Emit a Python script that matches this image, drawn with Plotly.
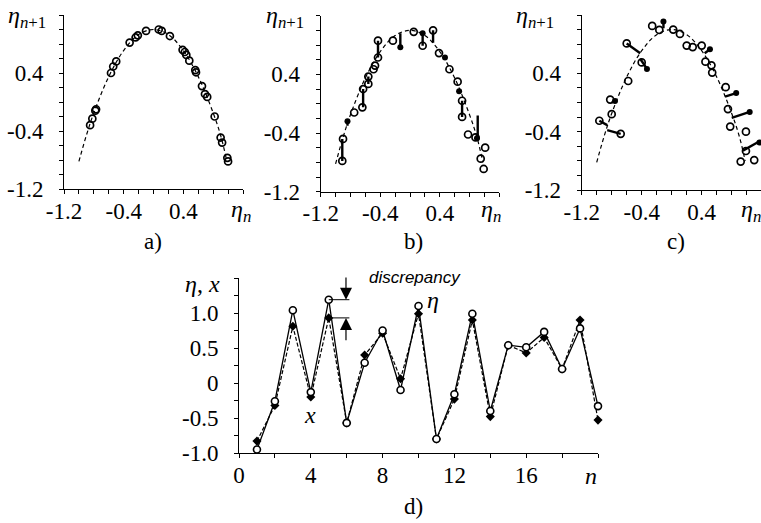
import plotly.graph_objects as go

# ---------------- data ----------------
# dashed model curve, shared by panels a-c
curve_x = [-1.0, -0.9, -0.8, -0.6, -0.4, -0.2, 0.0, 0.2, 0.4, 0.6, 0.8, 0.9, 0.98]
curve_y = [-0.82, -0.46, -0.15, 0.35, 0.71, 0.93, 1.0, 0.93, 0.71, 0.35, -0.15, -0.46, -0.80]

# panel a: return map points
a_x = [-0.85, -0.82, -0.78, -0.77, -0.57, -0.54, -0.50, -0.32, -0.24, -0.21, -0.10, 0.07, 0.11, 0.22,
       0.39, 0.42, 0.44, 0.48, 0.56, 0.57, 0.65, 0.69, 0.72, 0.82, 0.90, 0.92, 0.99, 1.00]
a_y = [-0.32, -0.23, -0.12, -0.10, 0.40, 0.49, 0.56, 0.82, 0.89, 0.92, 0.98, 1.00, 0.98, 0.91,
       0.72, 0.69, 0.65, 0.57, 0.44, 0.41, 0.22, 0.11, 0.07, -0.20, -0.49, -0.56, -0.77, -0.82]

# panel b: open points, filled points, vertical discrepancy segments
b_open_x = [-0.91, -0.90, -0.75, -0.64, -0.63, -0.56, -0.56, -0.49, -0.47, -0.43, -0.43, -0.23, 0.05,
            0.17, 0.31, 0.39, 0.53, 0.64, 0.70, 0.70, 0.78, 0.95, 0.99, 1.01, 0.88]
b_open_y = [-0.78, -0.48, -0.12, -0.05, 0.20, 0.27, 0.37, 0.47, 0.52, 0.63, 0.86, 0.86, 0.98,
            0.79, 1.00, 0.69, 0.47, 0.30, 0.04, -0.18, -0.42, -0.75, -0.89, -0.60, -0.46]
b_fill_x = [-0.84, -0.13, 0.17, 0.47, 0.66, 0.90]
b_fill_y = [-0.24, 0.77, 0.96, 0.63, 0.17, -0.47]
b_seg_x = [-0.91, -0.84, -0.63, -0.56, -0.43, -0.13, 0.17, 0.31, 0.70, 0.91]
b_seg_y0 = [-0.78, -0.30, -0.05, 0.27, 0.63, 0.77, 0.79, 0.83, -0.18, -0.47]
b_seg_y1 = [-0.48, -0.22, 0.20, 0.37, 0.86, 0.96, 0.96, 1.00, 0.04, -0.16]

# panel c: open points, filled points, slanted discrepancy segments
c_open_x = [-0.965, -0.80, -0.82, -0.68, -0.58, -0.60, -0.40, -0.26, -0.165, 0.02, 0.11, 0.20, 0.28,
            0.40, 0.45, 0.53, 0.54, 0.72, 0.75, 0.78, 0.99, 0.99, 0.92, 1.10]
c_open_y = [-0.25, -0.16, 0.04, -0.43, 0.295, 0.81, 0.55, 1.05, 0.995, 1.00, 0.94, 0.78, 0.76,
            0.78, 0.56, 0.51, 0.41, 0.21, -0.09, -0.33, -0.40, -0.665, -0.81, -0.79]
c_fill_x = [-0.756, -0.33, -0.11, 0.51, 0.86, 1.04, 1.17]
c_fill_y = [0.02, 0.46, 1.11, 0.73, 0.13, -0.13, -0.55]
c_seg_x0 = [-0.965, -0.86, -0.80, -0.60, -0.42, -0.11, 0.44, 0.71, 0.80, 0.95]
c_seg_y0 = [-0.25, -0.38, 0.00, 0.81, 0.60, 1.02, 0.675, 0.08, -0.21, -0.66]
c_seg_x1 = [-0.86, -0.68, -0.756, -0.42, -0.33, -0.11, 0.51, 0.86, 1.04, 1.19]
c_seg_y1 = [-0.31, -0.43, 0.02, 0.675, 0.46, 1.11, 0.73, 0.13, -0.13, -0.52]

# panel d: time series
n_vals = [1, 2, 3, 4, 5, 6, 7, 8, 9, 10, 11, 12, 13, 14, 15, 16, 17, 18, 19, 20]
eta_vals = [-0.95, -0.26, 1.04, -0.13, 1.19, -0.57, 0.29, 0.75, -0.10, 1.10,
            -0.80, -0.16, 0.99, -0.40, 0.54, 0.51, 0.73, 0.20, 0.78, -0.33]
x_vals = [-0.83, -0.32, 0.81, -0.20, 0.93, -0.57, 0.40, 0.71, 0.06, 0.99,
          -0.80, -0.23, 0.90, -0.48, 0.54, 0.43, 0.65, 0.20, 0.90, -0.53]

# ticks (labelled major ticks + unlabelled minor ticks)
map_tick_vals = [-1.2, -0.4, 0.4]
map_tick_text = ["-1.2", "-0.4", "0.4"]
map_minor_vals = [-1.0, -0.8, -0.6, -0.2, 0.0, 0.2, 0.6, 0.8, 1.0, 1.2]
d_x_tick_vals = [0, 4, 8, 12, 16]
d_x_tick_text = ["0", "4", "8", "12", "16"]
d_x_minor_vals = [2, 6, 10, 14, 18, 20]
d_y_tick_vals = [-1.0, -0.5, 0.0, 0.5, 1.0]
d_y_tick_text = ["-1.0", "-0.5", "0", "0.5", "1.0"]
d_y_minor_vals = [-0.75, -0.25, 0.25, 0.75, 1.25, 1.5]

# ---------------- figure ----------------
W, H = 761, 523
SERIF = "Liberation Serif"
fig = go.Figure()

def px_dom(a, b, total):
    return [a / total, b / total]

def ydom(top, bottom):
    return [1 - bottom / H, 1 - top / H]

panels = [("x", "y"), ("x2", "y2"), ("x3", "y3")]

for xa, ya in panels:
    fig.add_trace(go.Scatter(x=curve_x, y=curve_y, mode="lines",
                             line=dict(color="black", width=1.2, dash="4px,3px", shape="spline", smoothing=1.0),
                             xaxis=xa, yaxis=ya, showlegend=False, hoverinfo="skip"))

open_marker = dict(symbol="circle-open", size=7, color="black", line=dict(width=1.7, color="black"))
fill_marker = dict(symbol="circle", size=6, color="black")

fig.add_trace(go.Scatter(x=a_x, y=a_y, mode="markers", marker=open_marker, xaxis="x", yaxis="y",
                         showlegend=False, cliponaxis=False))

for i in range(len(b_seg_x)):
    fig.add_trace(go.Scatter(x=[b_seg_x[i], b_seg_x[i]], y=[b_seg_y0[i], b_seg_y1[i]], mode="lines",
                             line=dict(color="black", width=2.4), xaxis="x2", yaxis="y2", showlegend=False))
fig.add_trace(go.Scatter(x=b_open_x, y=b_open_y, mode="markers", marker=open_marker, xaxis="x2", yaxis="y2",
                         showlegend=False, cliponaxis=False))
fig.add_trace(go.Scatter(x=b_fill_x, y=b_fill_y, mode="markers", marker=fill_marker, xaxis="x2", yaxis="y2",
                         showlegend=False, cliponaxis=False))

for i in range(len(c_seg_x0)):
    fig.add_trace(go.Scatter(x=[c_seg_x0[i], c_seg_x1[i]], y=[c_seg_y0[i], c_seg_y1[i]], mode="lines",
                             line=dict(color="black", width=2.4), xaxis="x3", yaxis="y3", showlegend=False))
fig.add_trace(go.Scatter(x=c_open_x, y=c_open_y, mode="markers", marker=open_marker, xaxis="x3", yaxis="y3",
                         showlegend=False, cliponaxis=False))
fig.add_trace(go.Scatter(x=c_fill_x, y=c_fill_y, mode="markers", marker=fill_marker, xaxis="x3", yaxis="y3",
                         showlegend=False, cliponaxis=False))

fig.add_trace(go.Scatter(x=n_vals, y=x_vals, mode="lines+markers",
                         line=dict(color="black", width=1.2, dash="4px,2px"),
                         marker=dict(symbol="diamond", size=7, color="black"),
                         xaxis="x4", yaxis="y4", showlegend=False, cliponaxis=False))
fig.add_trace(go.Scatter(x=n_vals, y=eta_vals, mode="lines+markers",
                         line=dict(color="black", width=1.3),
                         marker=dict(symbol="circle", size=7, color="white", line=dict(color="black", width=1.6)),
                         xaxis="x4", yaxis="y4", showlegend=False, cliponaxis=False))

common = dict(showgrid=False, zeroline=False, showline=True, linecolor="black", linewidth=1,
              ticks="outside", ticklen=4, tickcolor="black", tickwidth=1, automargin=False,
              tickfont=dict(family=SERIF, size=23, color="black"), fixedrange=True, tickmode="array")
xcommon = dict(common, tickangle=0, ticklabelstandoff=-3)
ycommon = dict(common, ticklabelstandoff=11)

def minor(vals):
    return dict(tickmode="array", tickvals=vals, ticks="outside", ticklen=4, tickcolor="black",
                tickwidth=1, showgrid=False)

fig.update_layout(
    width=W, height=H, margin=dict(l=0, r=0, t=0, b=0, autoexpand=False),
    paper_bgcolor="white", plot_bgcolor="white",
    font=dict(family=SERIF, color="black"),
    xaxis=dict(domain=px_dom(64, 243, W), range=[-1.2, 1.2], tickvals=map_tick_vals,
               ticktext=map_tick_text, minor=minor(map_minor_vals), anchor="y", **xcommon),
    yaxis=dict(domain=ydom(15, 189), range=[-1.2, 1.2], tickvals=map_tick_vals,
               ticktext=map_tick_text, minor=minor(map_minor_vals), anchor="x", **ycommon),
    xaxis2=dict(domain=px_dom(320.7, 499.3, W), range=[-1.2, 1.2], tickvals=map_tick_vals,
                ticktext=map_tick_text, minor=minor(map_minor_vals), anchor="y2", **xcommon),
    yaxis2=dict(domain=ydom(15.7, 191.7), range=[-1.2, 1.2], tickvals=map_tick_vals,
                ticktext=map_tick_text, minor=minor(map_minor_vals), anchor="x2", **ycommon),
    xaxis3=dict(domain=[581.7 / W, 1.0], range=[-1.2, -1.2 + (W - 581.7) / 75.0],
                tickvals=map_tick_vals, ticktext=map_tick_text, minor=minor(map_minor_vals), anchor="y3", **xcommon),
    yaxis3=dict(domain=ydom(15, 190), range=[-1.2, 1.2], tickvals=map_tick_vals,
                ticktext=map_tick_text, minor=minor(map_minor_vals), anchor="x3", **ycommon),
    xaxis4=dict(domain=px_dom(239, 598, W), range=[0, 20], tickvals=d_x_tick_vals,
                ticktext=d_x_tick_text, minor=minor(d_x_minor_vals), anchor="y4", **xcommon),
    yaxis4=dict(domain=ydom(278, 453), range=[-1.0, 1.5], tickvals=d_y_tick_vals,
                ticktext=d_y_tick_text, minor=minor(d_y_minor_vals), anchor="x4", **ycommon),
)

ann = []
def txt(text, x, y, size=24, xanchor="center", yanchor="middle", family=SERIF):
    ann.append(dict(text=text, x=x / W, y=1 - y / H, xref="paper", yref="paper", showarrow=False,
                    xanchor=xanchor, yanchor=yanchor, font=dict(family=family, size=size, color="black")))

eta_np1 = "<i>η</i><sub><i>n</i>+1</sub>"
eta_n = "<i>η</i><sub><i>n</i></sub>"
txt(eta_np1, 6, 17, xanchor="left")
txt(eta_np1, 264, 17, xanchor="left")
txt(eta_np1, 514, 17, xanchor="left")
txt(eta_n, 229, 211, xanchor="left")
txt(eta_n, 479, 211, xanchor="left")
txt(eta_n, 739, 211, xanchor="left")
txt("a)", 153, 241, size=23)
txt("b)", 413, 241, size=23)
txt("c)", 676, 241, size=23)
txt("d)", 414, 506, size=23)
txt("<i>η</i>, <i>x</i>", 222, 284, xanchor="right")
txt("<i>n</i>", 591, 476, size=24)
txt("<i>x</i>", 310, 415, size=24)
txt("<i>η</i>", 433, 300, size=24)
txt("<i>discrepancy</i>", 367, 277, size=17, xanchor="left", family="Liberation Sans")

arr_x = 5.96
ann.append(dict(x=arr_x, y=eta_vals[4], ax=arr_x, ay=1.53, xref="x4", yref="y4", axref="x4", ayref="y4",
                showarrow=True, arrowhead=2, arrowsize=2.0, arrowwidth=1.2, arrowcolor="black", text=""))
ann.append(dict(x=arr_x, y=x_vals[4], ax=arr_x, ay=0.59, xref="x4", yref="y4", axref="x4", ayref="y4",
                showarrow=True, arrowhead=2, arrowsize=2.0, arrowwidth=1.2, arrowcolor="black", text=""))
fig.update_layout(annotations=ann)

shapes = [
    dict(type="line", xref="x4", yref="y4", x0=n_vals[4], x1=6.15, y0=eta_vals[4], y1=eta_vals[4],
         line=dict(color="black", width=1)),
    dict(type="line", xref="x4", yref="y4", x0=n_vals[4], x1=6.15, y0=x_vals[4], y1=x_vals[4],
         line=dict(color="black", width=1)),
    dict(type="line", xref="x4", yref="y4", x0=arr_x, x1=6.63, y0=1.53, y1=1.53,
         line=dict(color="black", width=1)),
]
fig.update_layout(shapes=shapes)

fig.write_html("out.html")
